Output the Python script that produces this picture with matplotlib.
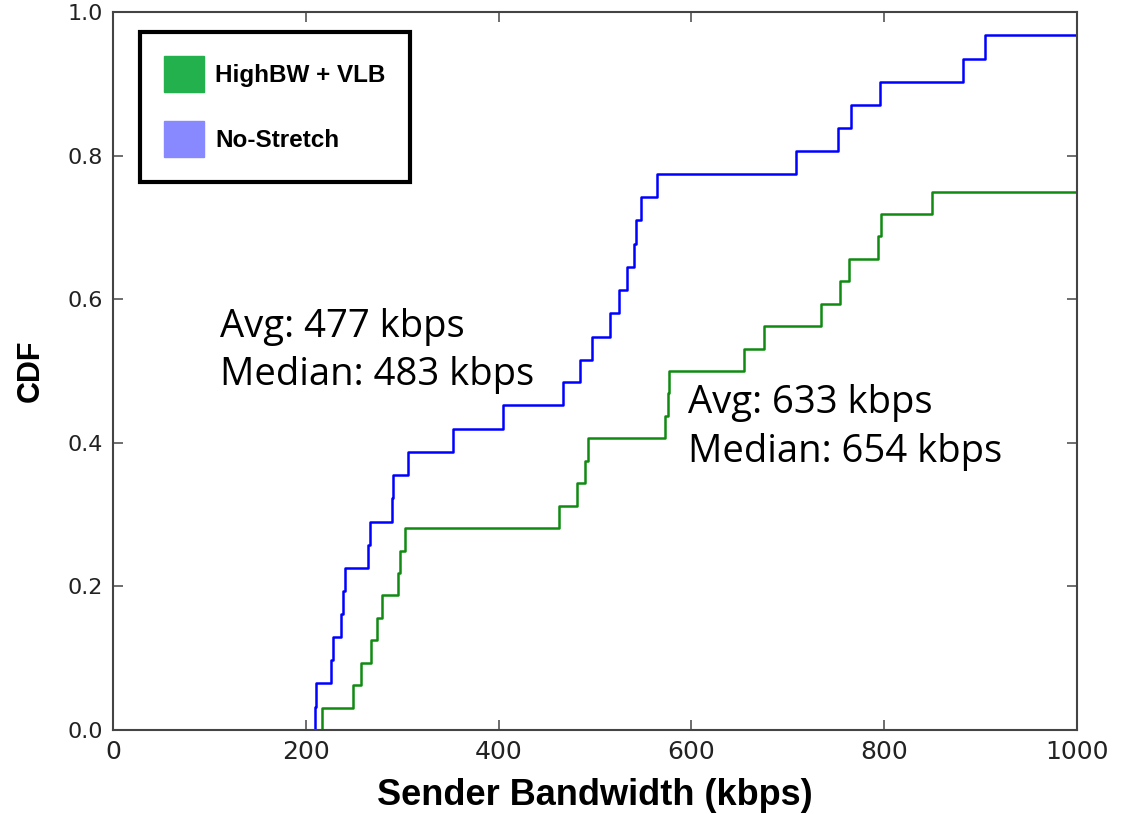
import numpy as np
import matplotlib
matplotlib.use("Agg")
import matplotlib.pyplot as plt
from matplotlib.patches import Patch

# Jump positions (kbps) and CDF levels
nostretch_bw = [209.5, 211, 226, 228, 237, 238.6, 240.7, 264.5, 266.6, 289,
                290.5, 306, 353, 405, 467, 484, 496.5, 515.6, 525.4, 533.5,
                540, 542.5, 547.7, 564, 709, 752.4, 765.2, 795.6, 882, 904.6]
nostretch_cdf = [0.032, 0.065, 0.097, 0.129, 0.161, 0.194, 0.226, 0.258, 0.290, 0.323,
                 0.355, 0.387, 0.419, 0.452, 0.484, 0.516, 0.548, 0.581, 0.613, 0.645,
                 0.677, 0.710, 0.742, 0.774, 0.806, 0.839, 0.871, 0.903, 0.935, 0.968]

highbw_bw = [217, 249, 257, 268, 273.5, 279, 296, 298, 303, 463,
             481, 490, 493, 573, 576, 577, 655, 675, 734, 754,
             764, 794, 797, 850]
highbw_cdf = [0.031, 0.062, 0.094, 0.125, 0.156, 0.188, 0.219, 0.250, 0.281, 0.312,
              0.344, 0.375, 0.406, 0.438, 0.469, 0.500, 0.531, 0.562, 0.594, 0.625,
              0.656, 0.688, 0.719, 0.750]

labels = ["HighBW + VLB", "No-Stretch"]
annot_nostretch = ["Avg: 477 kbps", "Median: 483 kbps"]
annot_highbw = ["Avg: 633 kbps", "Median: 654 kbps"]

fig = plt.figure(figsize=(11.23, 8.14), dpi=100)
ax = fig.add_axes([113 / 1123, 1 - 730 / 814, 964 / 1123, 718 / 814])
ax.set_xlim(0, 1000)
ax.set_ylim(0, 1.0)


def step_line(bw, cdf, color):
    xmax = ax.get_xlim()[1]
    x = np.concatenate([[bw[0]], bw, [xmax]])
    y = np.concatenate([[0.0], cdf, [cdf[-1]]])
    ax.plot(x, y, drawstyle="steps-post", color=color, lw=1.8)


step_line(nostretch_bw, nostretch_cdf, "#0000ff")
step_line(highbw_bw, highbw_cdf, "#108a10")

# ticks and spines in the old classic look
ax.set_xticks([0, 200, 400, 600, 800, 1000])
ax.set_yticks([0.0, 0.2, 0.4, 0.6, 0.8, 1.0])
ax.yaxis.set_major_formatter(matplotlib.ticker.FormatStrFormatter("%.1f"))
ax.tick_params(direction="in", top=True, right=True, length=7, width=1.2,
               color="#555555", labelcolor="#222222")
ax.tick_params(axis="x", labelsize=18, pad=7)
ax.tick_params(axis="y", labelsize=16, pad=7)
for s in ax.spines.values():
    s.set_linewidth(1.5)
    s.set_color("#444444")

ax.set_xlabel("Sender Bandwidth (kbps)", fontsize=26, fontweight="bold",
              family="Liberation Sans", labelpad=10)
ax.set_ylabel("CDF", fontsize=22, fontweight="bold",
              family="Liberation Sans", labelpad=16)

# annotations
ax.text(111, 0.547, annot_nostretch[0], fontsize=27.5, family="Open Sans", va="baseline")
ax.text(111, 0.480, annot_nostretch[1], fontsize=27.5, family="Open Sans", va="baseline")
ax.text(596, 0.4415, annot_highbw[0], fontsize=27.5, family="Open Sans", va="baseline")
ax.text(596, 0.3737, annot_highbw[1], fontsize=27.5, family="Open Sans", va="baseline")

handles = [Patch(facecolor="#22b14c", edgecolor="#22b14c"),
           Patch(facecolor="#8888ff", edgecolor="#8888ff")]
leg = ax.legend(handles, labels, loc="upper left", bbox_to_anchor=(27 / 964, 1 - 20 / 718),
                borderaxespad=0, prop={"family": "Liberation Sans", "weight": "bold", "size": 17.5},
                handlelength=1.65, handleheight=1.9, handletextpad=0.45,
                labelspacing=1.2, borderpad=1.0, fancybox=False, framealpha=1)
leg.get_frame().set_edgecolor("black")
leg.get_frame().set_linewidth(3)

fig.savefig("out.png", dpi=100)
